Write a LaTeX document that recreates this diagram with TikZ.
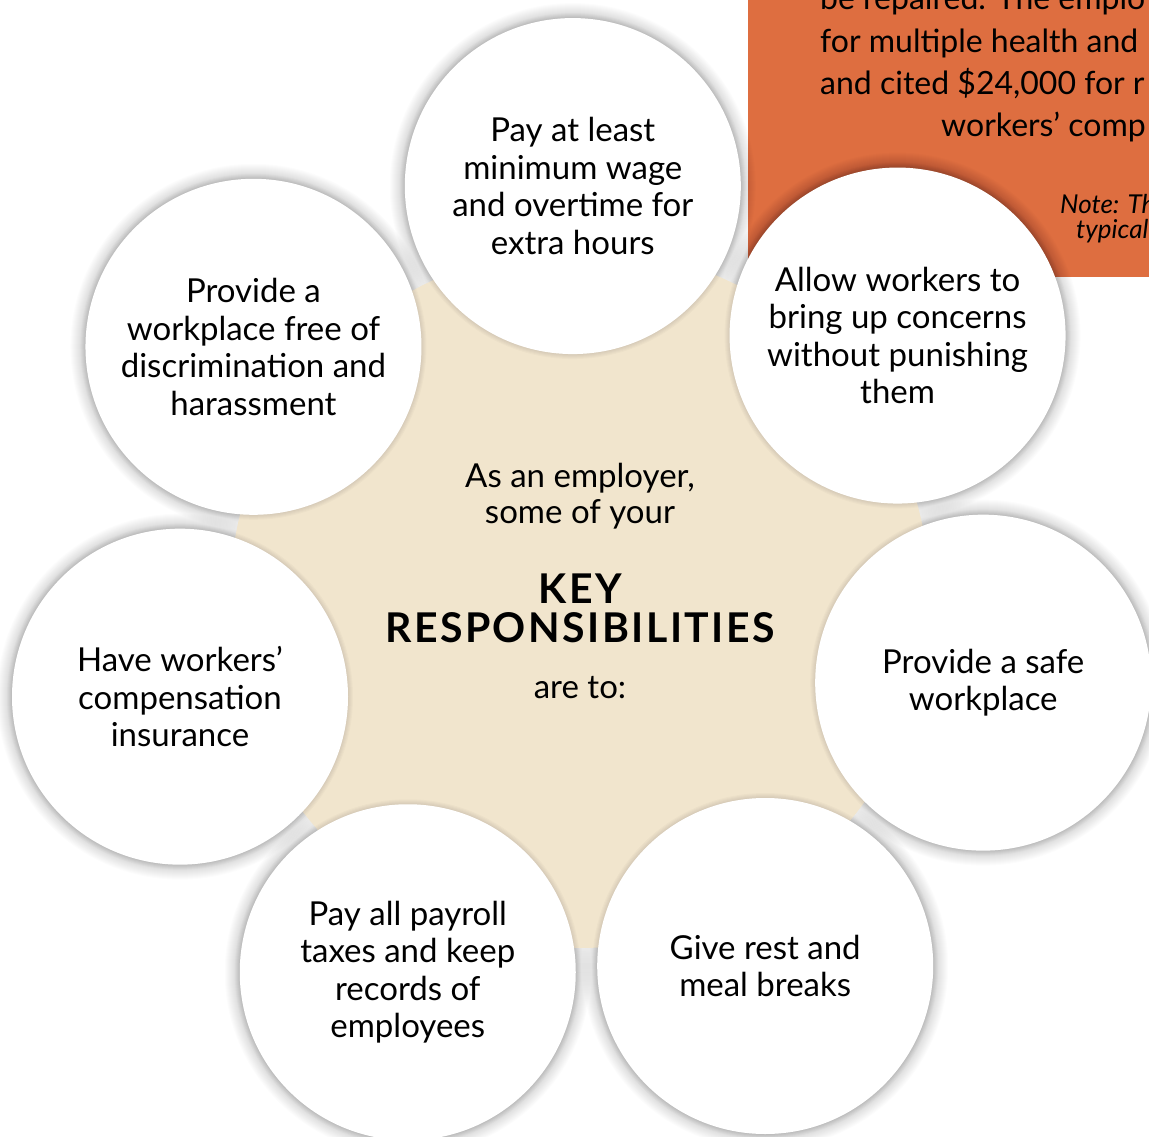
\documentclass[tikz,border=0pt]{standalone}
\usepackage{fontspec}
\setmainfont{Lato}
\definecolor{boxorange}{RGB}{222,110,64}
\definecolor{hubbeige}{RGB}{241,229,205}

\begin{document}
\begin{tikzpicture}[x = 1pt, y = -1pt,
		duty/.style = {circle, fill = white, minimum size = 336pt, inner sep = 0pt,
			align = center, font = \fontsize{33}{37.5}\selectfont},
		hubtext/.style = {align = center, inner sep = 0pt, font = \fontsize{33}{35.5}\selectfont},
		keytext/.style = {align = center, inner sep = 0pt,
			font = \fontsize{41}{39}\selectfont\bfseries\addfontfeatures{LetterSpace = 6}},
		boxline/.style = {anchor = base west, inner sep = 0pt, font = \fontsize{32}{42}\selectfont},
		boxnote/.style = {anchor = base west, inner sep = 0pt, font = \fontsize{26}{26}\selectfont\itshape}]
		\useasboundingbox (0, 0) rectangle (1149, 1137) ;
		\clip (0, 0) rectangle (1149, 1137) ;
		\begin{scope} % Orange box behind
			\fill [boxorange] (748, -10) rectangle (1160, 277) ;
			\node [boxline] (bl1) at (820, 10) {be repaired. The emplo} ;
			\node [boxline] (bl2) at (820, 53) {for multiple health and} ;
			\node [boxline] (bl3) at (820, 95) {and cited \$24,000 for r} ;
			\node [boxline] (bl4) at (941, 137) {workers' comp} ;
			\node [boxnote] (bn1) at (1060, 213) {Note: Th} ;
			\node [boxnote] (bn2) at (1076, 238) {typical} ;
		\end{scope}
		\coordinate (hub) at (580, 598) ;
		\foreach \i in {1, ..., 7}{
			\pgfmathsetmacro{\ang}{-(91 - (\i - 1)*360/7)}
			\coordinate (p\i) at ([shift = {(hub)}] \ang:412) ;
		}
		\begin{scope}[shift = {(1.5, 2.5)}] % Soft shadows
			\foreach \i in {1, ..., 7}{
				\foreach \r in {1, ..., 16}{
					\pgfmathsetmacro{\rr}{167 + \r}
					\fill [black, opacity = 0.011] (p\i) circle [radius = \rr] ;
				}
			}
		\end{scope}
		\fill [hubbeige] (hub) circle [radius = 350] ;
		\foreach \i in {1, ..., 7}{
			\foreach \r in {1, ..., 5}{
				\pgfmathsetmacro{\rr}{168 + \r}
				\fill [black, opacity = 0.02] (p\i) circle [radius = \rr] ;
			}
		}
		\node [duty] (wage) at (p1) {Pay at least\\minimum wage\\and overtime for\\extra hours} ;
		\node [duty] (concerns) at (p2) {Allow workers to\\bring up concerns\\without punishing\\them} ;
		\node [duty] (safe) at (p3) {Provide a safe\\workplace} ;
		\node [duty] (breaks) at (p4) {Give rest and\\meal breaks} ;
		\node [duty] (payroll) at (p5) {Pay all payroll\\taxes and keep\\records of\\employees} ;
		\node [duty] (insurance) at (p6) {Have workers'\\compensation\\insurance} ;
		\node [duty] (harassment) at (p7) {Provide a\\workplace free of\\discrimination and\\harassment} ;
		\node [hubtext] (intro) at (580, 496) {As an employer,\\some of your} ;
		\node [keytext] (key) at (580, 608) {KEY\\RESPONSIBILITIES} ;
		\node [hubtext] (areto) at (580, 688) {are to:} ;
	\end{tikzpicture}
\end{document}
